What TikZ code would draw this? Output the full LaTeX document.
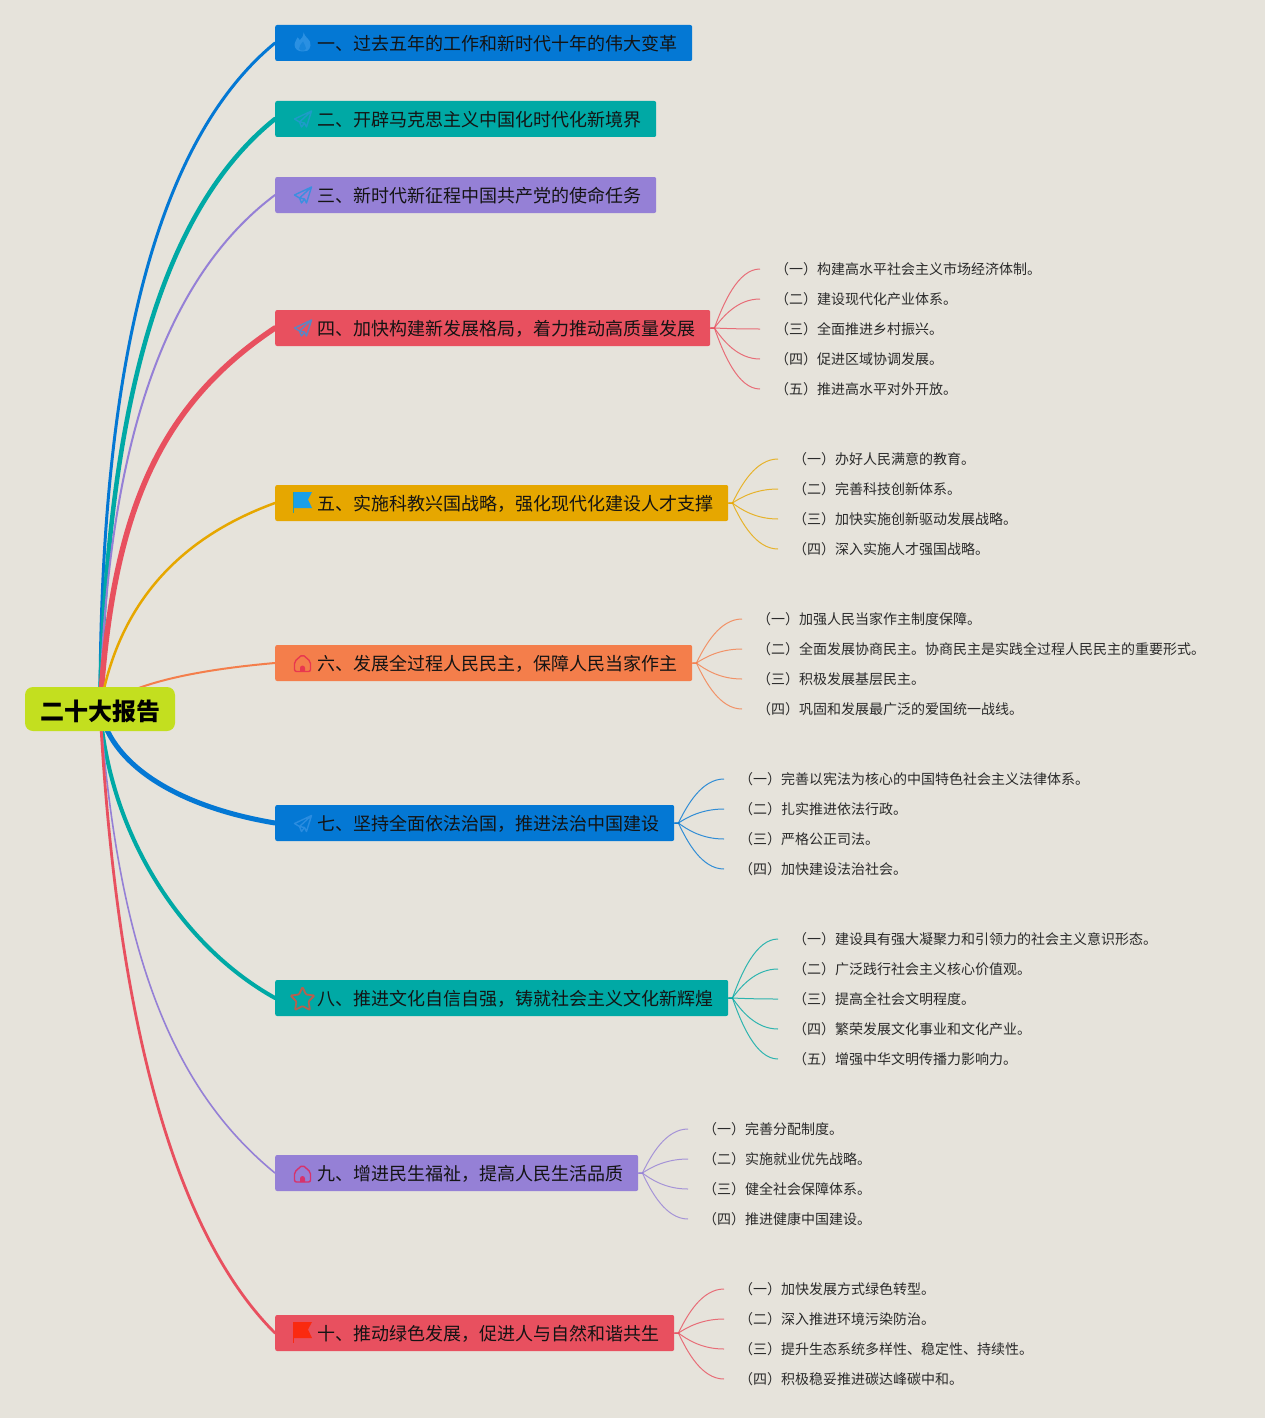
\documentclass[tikz,border=0pt]{standalone}
\usepackage{fontspec}
\setmainfont{Noto Sans CJK SC}
\usetikzlibrary{backgrounds,calc}
\definecolor{bgc}{HTML}{E6E3DB}
\definecolor{cblue}{HTML}{0478D4}
\definecolor{cteal}{HTML}{00A9A5}
\definecolor{cpurple}{HTML}{9580D6}
\definecolor{cred}{HTML}{E8505F}
\definecolor{cyellow}{HTML}{E6A700}
\definecolor{corange}{HTML}{F47E4B}
\definecolor{croot}{HTML}{C3DF1F}
\definecolor{ink}{HTML}{141414}
\definecolor{subink}{HTML}{2A2A2A}
\definecolor{ifire}{HTML}{2A90E2}
\definecolor{iplaneb}{HTML}{1E9BC8}
\definecolor{iplanec}{HTML}{3B8FE0}
\definecolor{iplaned}{HTML}{5B86C4}
\definecolor{iplaneg}{HTML}{2A8CE0}
\definecolor{iflagb}{HTML}{1A9FE8}
\definecolor{istem}{HTML}{2E9E9E}
\definecolor{ihomef}{HTML}{E8384F}
\definecolor{ihomei}{HTML}{D6336C}
\definecolor{istar}{HTML}{B5604F}
\definecolor{iflagr}{HTML}{FA2A10}
\tikzset{
  rootbox/.style={fill=croot,rounded corners=8pt,minimum width=150pt,minimum height=44pt,inner sep=0pt,text height=22.2pt,text depth=0pt,font=\fontsize{24pt}{28pt}\selectfont\bfseries,text=black},
  branchbox/.style={fill=#1,rounded corners=2pt,minimum height=36pt,inner sep=0pt,anchor=west,text height=15.7pt,text depth=0pt,font=\fontsize{18pt}{22pt}\selectfont,text=ink},
  subitem/.style={anchor=west,inner xsep=15pt,inner ysep=0pt,text height=10.6pt,text depth=0pt,font=\fontsize{14pt}{18pt}\selectfont,text=subink},
  trunk/.style={draw=#1,line cap=round},
  twig/.style={draw=#1,line width=1pt,opacity=0.8},
  pics/planeicon/.style={code={
    \draw[draw=#1,line width=1.4pt,line join=round] (9,-8)--(-8,0)--(-3,3)--(-1,8)--(2,4)--(-3,3)--(9,-8)--(4,8)--(2,4);
  }},
  pics/homeicon/.style={code={
    \draw[draw=#1,line width=1.4pt,line join=round,rounded corners=2pt] (-8,8)--(-8,-2)--(0,-9)--(8,-2)--(8,8)--cycle;
    \fill[#1] (-2.5,8) -- (-2.5,4.5) arc[start angle=180,end angle=360,radius=2.5] -- (2.5,8) -- cycle;
  }},
  pics/flagicon/.style 2 args={code={
    \fill[#1] (-9,-10) -- (10,-10) -- (6,-2.5) -- (10,6) -- (-9,6) -- cycle;
    \draw[draw=#2,line width=1pt] (-9,-10) -- (-9,11);
  }},
  pics/fireicon/.style={code={
    \fill[#1] (1,-10) .. controls (2,-5) and (9,-3) .. (8,3) .. controls (7,9) and (3,9) .. (0,9)
      .. controls (-5,9) and (-8,6) .. (-8,2) .. controls (-8,-1) and (-6,-2) .. (-5,-5)
      .. controls (-3,-4) and (-3,-3) .. (-3,-2) .. controls (-1,-4) and (1,-6) .. (1,-10) -- cycle;
    \fill[cblue,opacity=0.45] (0.5,-1) .. controls (1,2) and (4,3) .. (3.5,6) .. controls (3,9) and (-3,9) .. (-3.5,6) .. controls (-4,3) and (-1,2) .. (0.5,-1) -- cycle;
  }},
  pics/staricon/.style={code={
    \draw[draw=#1,line width=1.8pt,line join=round,rounded corners=1pt] (0,-12)--(3.5,-4.5)--(12,-3.5)--(6,2.5)--(7.5,11)--(0,7)--(-7.5,11)--(-6,2.5)--(-12,-3.5)--(-3.5,-4.5)--cycle;
  }},
}
% name, y, right edge, colour, text
\newcommand{\branchnode}[5]{%
  \pgfmathsetmacro{\bw}{#3-275}%
  \node[branchbox=#4] (#1) at (275,#2) {\makebox[\bw pt][l]{\hspace*{42pt}#5}};%
}
\newcommand{\subnode}[4]{% name, x, y, text
  \node[subitem] (#1) at (#2,#3) {#4};%
}
\newcommand{\twigto}[3]{% branch, sub, colour
  \path (#1.east) ++(4,0) coordinate (tw);
  \draw[twig=#3] (#1.east) -- (tw) .. controls ($(tw)!0.42!(tw|-#2.west)+(9,0)$) and +(-22,0) .. (#2.west);
}
\begin{document}
\begin{tikzpicture}[x=1pt,y=-1pt]
\useasboundingbox (0,0) rectangle (1265,1418);

\node[rootbox] (root) at (100,709) {二十大报告};

\branchnode{b1}{43}{692}{cblue}{一、过去五年的工作和新时代十年的伟大变革}
\branchnode{b2}{119}{656}{cteal}{二、开辟马克思主义中国化时代化新境界}
\branchnode{b3}{195}{656}{cpurple}{三、新时代新征程中国共产党的使命任务}
\branchnode{b4}{328}{710}{cred}{四、加快构建新发展格局，着力推动高质量发展}
\branchnode{b5}{503}{728}{cyellow}{五、实施科教兴国战略，强化现代化建设人才支撑}
\branchnode{b6}{663}{692}{corange}{六、发展全过程人民民主，保障人民当家作主}
\branchnode{b7}{823}{674}{cblue}{七、坚持全面依法治国，推进法治中国建设}
\branchnode{b8}{998}{728}{cteal}{八、推进文化自信自强，铸就社会主义文化新辉煌}
\branchnode{b9}{1173}{638}{cpurple}{九、增进民生福祉，提高人民生活品质}
\branchnode{b10}{1333}{674}{cred}{十、推动绿色发展，促进人与自然和谐共生}

\pic at (302.5,42.5) {fireicon={ifire}};
\pic at (302.5,119) {planeicon={iplaneb}};
\pic at (302.5,195) {planeicon={iplanec}};
\pic at (302.5,328) {planeicon={iplaned}};
\pic at (302,502) {flagicon={iflagb}{istem}};
\pic at (302.5,663.5) {homeicon={ihomef}};
\pic at (302.5,823.5) {planeicon={iplaneg}};
\pic at (302.5,999) {staricon={istar}};
\pic at (302.5,1174) {homeicon={ihomei}};
\pic at (302,1332) {flagicon={iflagr}{iflagr}};

\subnode{s41}{760}{269}{（一）构建高水平社会主义市场经济体制。}
\subnode{s42}{760}{299}{（二）建设现代化产业体系。}
\subnode{s43}{760}{329}{（三）全面推进乡村振兴。}
\subnode{s44}{760}{359}{（四）促进区域协调发展。}
\subnode{s45}{760}{389}{（五）推进高水平对外开放。}
\subnode{s51}{778}{459}{（一）办好人民满意的教育。}
\subnode{s52}{778}{489}{（二）完善科技创新体系。}
\subnode{s53}{778}{519}{（三）加快实施创新驱动发展战略。}
\subnode{s54}{778}{549}{（四）深入实施人才强国战略。}
\subnode{s61}{742}{619}{（一）加强人民当家作主制度保障。}
\subnode{s62}{742}{649}{（二）全面发展协商民主。协商民主是实践全过程人民民主的重要形式。}
\subnode{s63}{742}{679}{（三）积极发展基层民主。}
\subnode{s64}{742}{709}{（四）巩固和发展最广泛的爱国统一战线。}
\subnode{s71}{724}{779}{（一）完善以宪法为核心的中国特色社会主义法律体系。}
\subnode{s72}{724}{809}{（二）扎实推进依法行政。}
\subnode{s73}{724}{839}{（三）严格公正司法。}
\subnode{s74}{724}{869}{（四）加快建设法治社会。}
\subnode{s81}{778}{939}{（一）建设具有强大凝聚力和引领力的社会主义意识形态。}
\subnode{s82}{778}{969}{（二）广泛践行社会主义核心价值观。}
\subnode{s83}{778}{999}{（三）提高全社会文明程度。}
\subnode{s84}{778}{1029}{（四）繁荣发展文化事业和文化产业。}
\subnode{s85}{778}{1059}{（五）增强中华文明传播力影响力。}
\subnode{s91}{688}{1129}{（一）完善分配制度。}
\subnode{s92}{688}{1159}{（二）实施就业优先战略。}
\subnode{s93}{688}{1189}{（三）健全社会保障体系。}
\subnode{s94}{688}{1219}{（四）推进健康中国建设。}
\subnode{s101}{724}{1289}{（一）加快发展方式绿色转型。}
\subnode{s102}{724}{1319}{（二）深入推进环境污染防治。}
\subnode{s103}{724}{1349}{（三）提升生态系统多样性、稳定性、持续性。}
\subnode{s104}{724}{1379}{（四）积极稳妥推进碳达峰碳中和。}

\begin{scope}[on background layer]
\fill[bgc] (0,0) rectangle (1265,1418);
\draw[trunk=cblue,line width=3pt] (root.center) .. controls +(0,-309) and +(-130,107) .. (b1.west);
\draw[trunk=cteal,line width=4.5pt] (root.center) .. controls +(6,-270) and +(-125,100) .. (b2.west);
\draw[trunk=cpurple,line width=2pt] (root.center) .. controls +(6,-240) and +(-120,90) .. (b3.west);
\draw[trunk=cred,line width=5.5pt] (root.center) .. controls +(12,-190) and +(-120,80) .. (b4.west);
\draw[trunk=cyellow,line width=2.5pt] (root.center) .. controls +(15,-90) and +(-110,40) .. (b5.west);
\draw[trunk=corange,line width=2pt] (root.center) .. controls +(28,-25) and +(-80,7) .. (b6.west);
\draw[trunk=cblue,line width=5pt] (root.center) .. controls +(12,60) and +(-90,-15) .. (b7.west);
\draw[trunk=cteal,line width=4pt] (root.center) .. controls +(10,130) and +(-90,-50) .. (b8.west);
\draw[trunk=cpurple,line width=1.6pt] (root.center) .. controls +(18,230) and +(-110,-90) .. (b9.west);
\draw[trunk=cred,line width=2.8pt] (root.center) .. controls +(15,280) and +(-110,-110) .. (b10.west);
\foreach \s in {s41,s42,s43,s44,s45} {\twigto{b4}{\s}{cred}}
\foreach \s in {s51,s52,s53,s54} {\twigto{b5}{\s}{cyellow}}
\foreach \s in {s61,s62,s63,s64} {\twigto{b6}{\s}{corange}}
\foreach \s in {s71,s72,s73,s74} {\twigto{b7}{\s}{cblue}}
\foreach \s in {s81,s82,s83,s84,s85} {\twigto{b8}{\s}{cteal}}
\foreach \s in {s91,s92,s93,s94} {\twigto{b9}{\s}{cpurple}}
\foreach \s in {s101,s102,s103,s104} {\twigto{b10}{\s}{cred}}
\end{scope}
\end{tikzpicture}
\end{document}
